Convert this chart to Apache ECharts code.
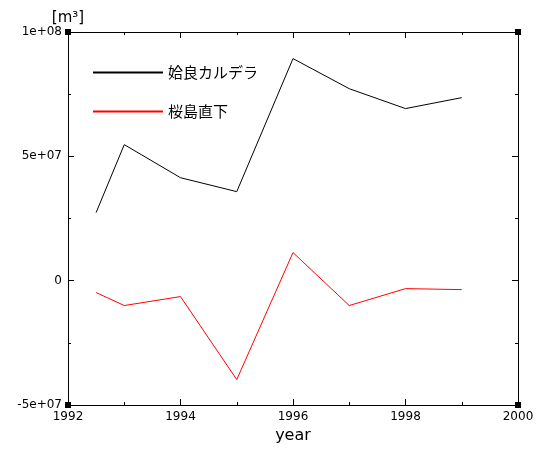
<!DOCTYPE html>
<html>
<head>
<meta charset="utf-8">
<script src="https://cdn.jsdelivr.net/npm/echarts@6/dist/echarts.min.js"></script>
<style>html,body{margin:0;padding:0;background:#fff}#main{width:537px;height:450px}</style>
</head>
<body>
<div id="main"></div>
<script>
var years = [1992.5, 1993, 1994, 1995, 1996, 1997, 1998, 1999];
var aira = [2.74e7, 5.47e7, 4.14e7, 3.58e7, 8.93e7, 7.72e7, 6.92e7, 7.36e7];
var sakura = [-4.8e6, -1.0e7, -6.4e6, -3.98e7, 1.13e7, -1.0e7, -3.2e6, -3.6e6];
var yTickLabels = { '100000000': '1e+08', '50000000': '5e+07', '0': '0', '-50000000': '-5e+07' };

function pairs(xs, ys) {
    var out = [];
    for (var i = 0; i < xs.length; i++) out.push([xs[i], ys[i]]);
    return out;
}

var font = 'DejaVu Sans';
var myChart = echarts.init(document.getElementById('main'));
var axisCommon = {
    axisLine: { onZero: false, lineStyle: { color: '#000' } },
    axisTick: { inside: true, length: 6, lineStyle: { color: '#000' } },
    minorTick: { show: true, splitNumber: 2, length: 3, lineStyle: { color: '#000' } },
    splitLine: { show: false }
};
var option = {
    animation: false,
    grid: { left: 68, right: 19, top: 32, bottom: 45 },
    legend: {
        orient: 'vertical', left: 88, top: 60, itemWidth: 70, itemHeight: 2, itemGap: 24,
        icon: 'rect',
        textStyle: { fontFamily: 'Noto Sans CJK JP', fontSize: 15, color: '#000' },
        data: ['姶良カルデラ', '桜島直下']
    },
    xAxis: [Object.assign({
        type: 'value', min: 1992, max: 2000, interval: 2,
        name: 'year', nameLocation: 'middle', nameGap: 18,
        nameTextStyle: { fontFamily: font, fontSize: 16, color: '#000' },
        axisLabel: { fontFamily: font, fontSize: 12, color: '#000', margin: 6,
            formatter: function (v) { return String(v); } }
    }, axisCommon), Object.assign({
        type: 'value', position: 'top', min: 1992, max: 2000, interval: 2,
        axisLabel: { show: false }
    }, axisCommon)],
    yAxis: [Object.assign({
        type: 'value', min: -5e7, max: 1e8, interval: 5e7,
        name: '[m³]', nameGap: 6,
        nameTextStyle: { fontFamily: font, fontSize: 15, color: '#000', align: 'center' },
        axisLabel: { fontFamily: font, fontSize: 12, color: '#000', margin: 6,
            formatter: function (v) { return yTickLabels[String(v)]; } }
    }, axisCommon), Object.assign({
        type: 'value', position: 'right', min: -5e7, max: 1e8, interval: 5e7,
        axisLabel: { show: false }
    }, axisCommon)],
    graphic: [
        { type: 'rect', shape: { x: 65, y: 29, width: 6, height: 6 }, style: { fill: '#000' } },
        { type: 'rect', shape: { x: 515, y: 29, width: 6, height: 6 }, style: { fill: '#000' } },
        { type: 'rect', shape: { x: 65, y: 402, width: 6, height: 6 }, style: { fill: '#000' } },
        { type: 'rect', shape: { x: 515, y: 402, width: 6, height: 6 }, style: { fill: '#000' } }
    ],
    series: [
        { name: '姶良カルデラ', type: 'line', data: pairs(years, aira), showSymbol: false,
          lineStyle: { color: '#000', width: 1 }, itemStyle: { color: '#000' } },
        { name: '桜島直下', type: 'line', data: pairs(years, sakura), showSymbol: false,
          lineStyle: { color: '#ff0000', width: 1 }, itemStyle: { color: '#ff0000' } }
    ]
};
myChart.setOption(option);
</script>
</body>
</html>
